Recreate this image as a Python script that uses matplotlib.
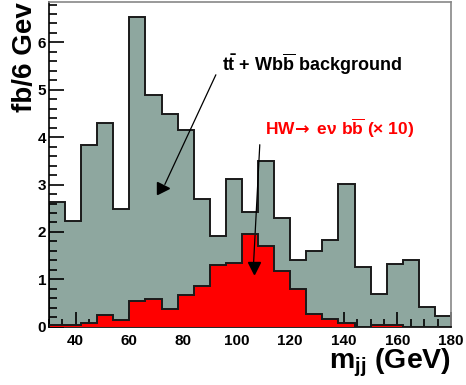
import matplotlib
matplotlib.use('Agg')
import matplotlib.pyplot as plt
from matplotlib.ticker import MultipleLocator
import numpy as np

############################################
#   Histogram contents (fb / 6 GeV)
############################################
edges = np.arange(30, 181, 6)
background = [2.63, 2.23, 3.83, 4.30, 2.49, 6.53, 4.89, 4.49, 4.15, 2.69,
              1.91, 3.12, 2.43, 3.49, 2.30, 1.41, 1.60, 1.83, 3.01, 1.25,
              0.69, 1.32, 1.41, 0.41, 0.23]
signal_x10 = [0.03, 0.03, 0.07, 0.24, 0.14, 0.55, 0.58, 0.38, 0.66, 0.85,
              1.31, 1.34, 1.96, 1.71, 1.18, 0.80, 0.27, 0.16, 0.07, 0.00,
              0.04, 0.04, 0.00, 0.00, 0.00]

bkg_label = r'$t\bar{t}$ + Wb$\overline{\mathrm{b}}$ background'
sig_label = r'HW$\!\mathsf{\rightarrow}$ e$\nu$ b$\overline{\mathrm{b}}$ (' + '\u00d7 10)'

############################################
#   Fonts
############################################
plt.rcParams['font.family'] = ['Liberation Sans', 'DejaVu Sans']
plt.rcParams['font.weight'] = 'bold'
plt.rcParams['mathtext.fontset'] = 'custom'
plt.rcParams['mathtext.rm'] = 'Liberation Sans:bold'
plt.rcParams['mathtext.it'] = 'Liberation Sans:bold'
plt.rcParams['mathtext.bf'] = 'Liberation Sans:bold'
plt.rcParams['mathtext.sf'] = 'DejaVu Sans'

############################################
#   Figure
############################################
fig = plt.figure(figsize=(4.66, 3.85), dpi=100, facecolor='white')
ax = fig.add_axes([0.105, 0.1514, 0.863, 0.843])

ax.stairs(background, edges, fill=True, color='#8ea79f', zorder=1)
ax.stairs(background, edges, color='#1a1a1a', lw=1.4, zorder=1.5)
ax.stairs(signal_x10, edges, fill=True, color='#ff0000', zorder=3)
ax.stairs(signal_x10, edges, color='#1a1a1a', lw=1.4, zorder=3.5)

ax.set_xlim(30, 180)
ax.set_ylim(0, 6.85)

ax.xaxis.set_major_locator(MultipleLocator(20))
ax.xaxis.set_minor_locator(MultipleLocator(5))
ax.yaxis.set_major_locator(MultipleLocator(1))
ax.yaxis.set_minor_locator(MultipleLocator(0.2))
ax.tick_params(which='both', direction='in', top=False, right=False,
               labelsize=11, width=1.2)
ax.tick_params(which='major', length=11)
ax.tick_params(which='minor', length=5.5)
ax.tick_params(axis='y', pad=2)
ax.tick_params(axis='x', pad=5)

for s in ['top', 'right']:
    ax.spines[s].set_color('#888888')
    ax.spines[s].set_linewidth(1.2)
for s in ['left', 'bottom']:
    ax.spines[s].set_linewidth(1.2)

ax.set_ylabel('fb/6 Gev', fontsize=20, fontweight='bold', loc='top', labelpad=0)
ax.set_xlabel(r'm$_{\mathrm{jj}}$ (GeV)', fontsize=20.5, fontweight='bold',
              loc='right', labelpad=-1)

############################################
#   Annotations
############################################
ax.text(94.5, 5.4, bkg_label, fontsize=13, fontweight='bold', color='black')
ax.annotate('', xy=(72.8, 2.95), xytext=(92.7, 5.37),
            arrowprops=dict(arrowstyle='-', color='black', lw=0.9))
ax.plot([72.5], [2.93], marker='>', color='black', markersize=9, zorder=5)

ax.text(110.5, 4.05, sig_label, fontsize=12.5, fontweight='bold', color='#ff0000')
ax.annotate('', xy=(106.2, 1.2), xytext=(108.7, 3.90),
            arrowprops=dict(arrowstyle='-', color='black', lw=0.9))
ax.plot([106.4], [1.24], marker='v', color='black', markersize=9, zorder=5)

fig.savefig('out.png', dpi=100)
